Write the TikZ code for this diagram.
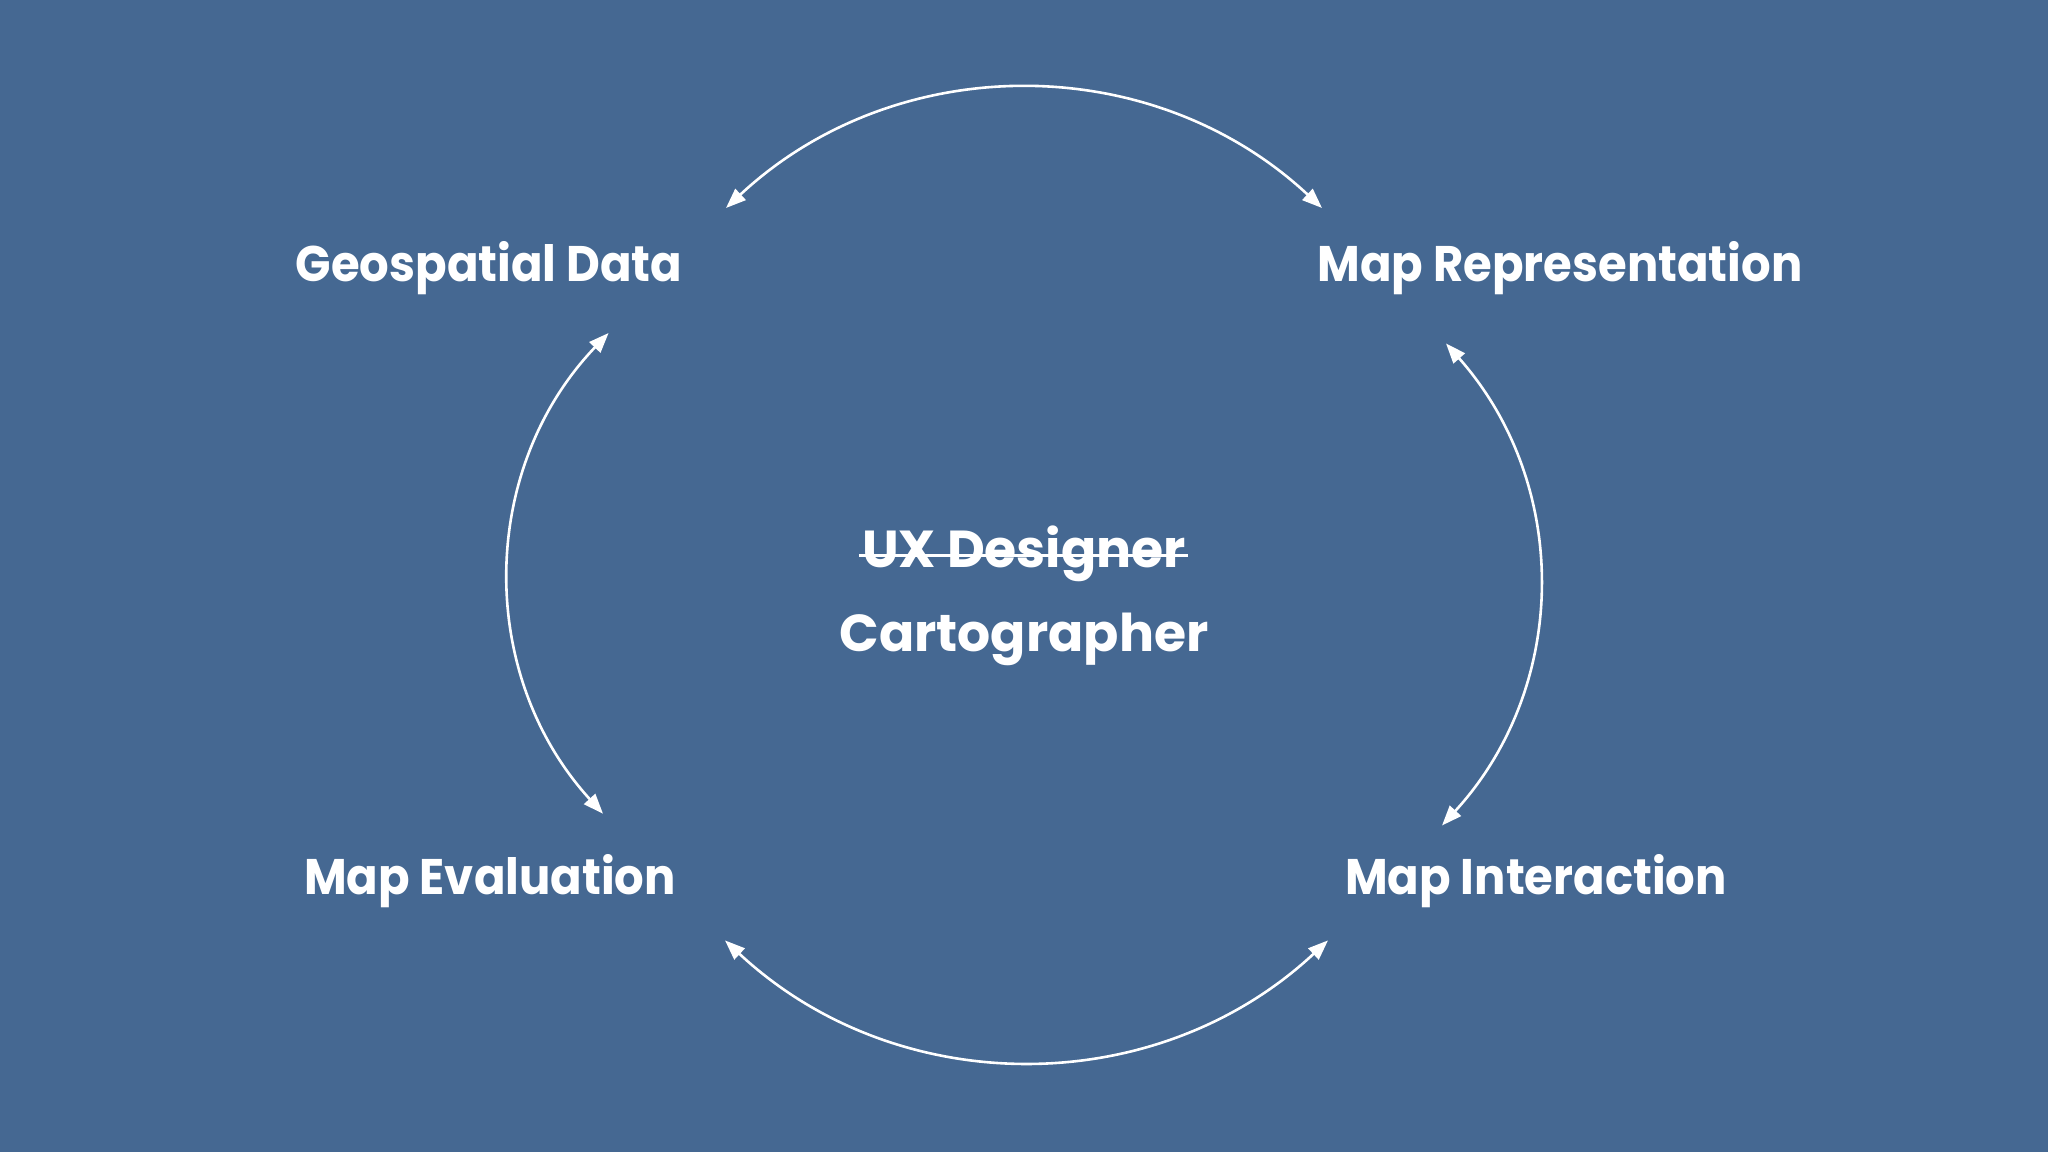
\documentclass[tikz,border=0pt]{standalone}
\usepackage{fontspec}
\setmainfont{Poppins}
\newfontfamily\outerfont{Poppins}[FakeStretch=0.93]
\usetikzlibrary{arrows.meta}
\definecolor{bgblue}{RGB}{69,104,146}
\begin{document}
\begin{tikzpicture}[x=1pt,y=1pt,
  lbl/.style={text=white,font=\outerfont\fontsize{50}{60}\selectfont\bfseries,anchor=base,inner sep=0pt},
  clbl/.style={text=white,font=\fontsize{52}{62}\selectfont\bfseries,anchor=base,inner sep=0pt},
  cyc/.style={draw=white,line width=2.6pt,{Triangle[length=20pt,width=15pt]}-{Triangle[length=20pt,width=15pt]}},
  strike/.style={draw=white,line width=3pt}]
\fill[bgblue] (0,0) rectangle (2048,1152);
\useasboundingbox (0,0) rectangle (2048,1152);
\node[lbl] (geo) at (489,870.3) {Geospatial Data};
\node[lbl] (rep) at (1560,870.3) {Map Representation};
\node[lbl] (eval) at (490,257.4) {Map Evaluation};
\node[lbl] (inter) at (1536,257.4) {Map Interaction};
\node[clbl] (ux) at (1024,584) {UX Designer};
\node[clbl] (carto) at (1024,500.3) {Cartographer};
\draw[strike] ([xshift=-3pt,yshift=12pt]ux.base west) -- ([xshift=2pt,yshift=12pt]ux.base east);
\coordinate (Ta) at (726,944);
\coordinate (Tb) at (1322,944);
\coordinate (Lt) at (608.6,819);
\coordinate (Lb) at (603,338.3);
\coordinate (Rt) at (1446,808.5);
\coordinate (Rb) at (1442,326.5);
\coordinate (Bl) at (725,211.6);
\coordinate (Br) at (1328,211.6);
\draw[cyc] (Ta) to[bend left=43] (Tb);
\draw[cyc] (Lb) to[bend left=43] (Lt);
\draw[cyc] (Rt) to[bend left=42] (Rb);
\draw[cyc] (Br) to[bend left=43] (Bl);
\end{tikzpicture}
\end{document}
